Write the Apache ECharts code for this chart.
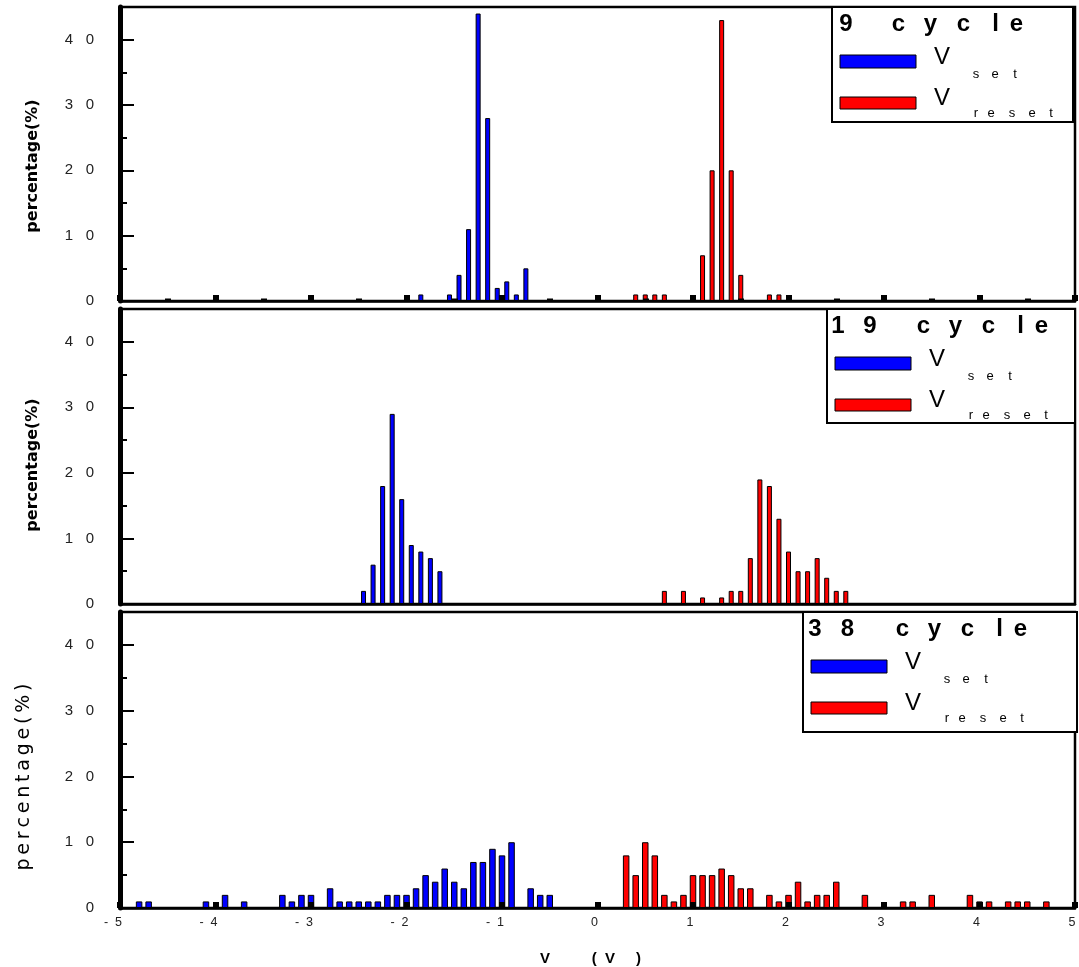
<!DOCTYPE html>
<html>
<head>
<meta charset="utf-8">
<script src="https://cdn.jsdelivr.net/npm/echarts@6/dist/echarts.min.js"></script>
<style>
  html, body { margin: 0; padding: 0; background: #fff; }
  #chart { width: 1079px; height: 967px; }
</style>
</head>
<body>
<div id="chart"></div>
<script>
// Switching-voltage histograms (percentage per 0.1 V bin) after 9, 19 and 38 cycles

const cycles = ['9', '19', '38'];

// 9 cycles
const setV9 = [-1.85, -1.55, -1.45, -1.35, -1.25, -1.15, -1.05, -0.95, -0.85, -0.75];
const setP9 = [1, 1, 4, 11, 44, 28, 2, 3, 1, 5];
const resetV9 = [0.4, 0.5, 0.6, 0.7, 1.1, 1.2, 1.3, 1.4, 1.5, 1.8, 1.9];
const resetP9 = [1, 1, 1, 1, 7, 20, 43, 20, 4, 1, 1];

// 19 cycles
const setV19 = [-2.45, -2.35, -2.25, -2.15, -2.05, -1.95, -1.85, -1.75, -1.65];
const setP19 = [2, 6, 18, 29, 16, 9, 8, 7, 5];
const resetV19 = [0.7, 0.9, 1.1, 1.3, 1.4, 1.5, 1.6, 1.7, 1.8, 1.9, 2.0, 2.1, 2.2, 2.3, 2.4, 2.5, 2.6];
const resetP19 = [2, 2, 1, 1, 2, 2, 7, 19, 18, 13, 8, 5, 5, 7, 4, 2, 2];

// 38 cycles
const setV38 = [-4.8, -4.7, -4.1, -3.9, -3.7, -3.3, -3.2, -3.1, -3.0, -2.8, -2.7, -2.6, -2.5, -2.4, -2.3,
  -2.2, -2.1, -2.0, -1.9, -1.8, -1.7, -1.6, -1.5, -1.4, -1.3, -1.2, -1.1, -1.0, -0.9, -0.7, -0.6, -0.5];
const setP38 = [1, 1, 1, 2, 1, 2, 1, 2, 2, 3, 1, 1, 1, 1, 1,
  2, 2, 2, 3, 5, 4, 6, 4, 3, 7, 7, 9, 8, 10, 3, 2, 2];
const resetV38 = [0.3, 0.4, 0.5, 0.6, 0.7, 0.8, 0.9, 1.0, 1.1, 1.2, 1.3, 1.4, 1.5, 1.6, 1.8, 1.9, 2.0,
  2.1, 2.2, 2.3, 2.4, 2.5, 2.8, 3.2, 3.3, 3.5, 3.9, 4.0, 4.1, 4.3, 4.4, 4.5, 4.7];
const resetP38 = [8, 5, 10, 8, 2, 1, 2, 5, 5, 5, 6, 5, 3, 3, 2, 1, 2,
  4, 1, 2, 2, 4, 2, 1, 1, 2, 2, 1, 1, 1, 1, 1, 1];

// axis ranges
const xMin = -5, xMax = 5, xStep = 1;
const yMin = 0, yMax = 45, yStep = 10, yMinorStep = 5;

const panels = [
  { setV: setV9, setP: setP9, resetV: resetV9, resetP: resetP9 },
  { setV: setV19, setP: setP19, resetV: resetV19, resetP: resetP19 },
  { setV: setV38, setP: setP38, resetV: resetV38, resetP: resetP38 }
];

// ---- layout ----
const gridBox = [
  { top: 7, height: 294 },
  { top: 309, height: 295 },
  { top: 612, height: 296 }
];
const barW = [5, 5, 6.5];
const BLUE = '#0000ff', RED = '#ff0000';
const SANS = '"Liberation Sans", Arial, sans-serif';

const spread = s => s.split('').join('   ');
const fmtY = v => (v === yMax ? '' : spread(String(v)));
const fmtX = v => (v < 0 ? '{neg|-  ' + (-v) + '}' : '{pos|' + v + '}');

const grids = [], xAxes = [], yAxes = [], series = [];

panels.forEach((p, i) => {
  grids.push({
    left: 120, width: 955, top: gridBox[i].top, height: gridBox[i].height,
    show: true, borderColor: '#000', borderWidth: 2.5, backgroundColor: 'transparent'
  });

  xAxes.push({
    type: 'value', gridIndex: i, min: xMin, max: xMax, interval: xStep, z: 10,
    axisLine: { show: true, onZero: false, lineStyle: { color: '#000', width: 2.5 } },
    axisTick: { show: i !== 1, inside: true, length: 6, lineStyle: { color: '#000', width: 6 } },
    minorTick: { show: i === 0, splitNumber: 2, length: 2.5, lineStyle: { color: '#000', width: 6 } },
    splitLine: { show: false },
    axisLabel: {
      show: i === 2, margin: 8, formatter: fmtX,
      rich: {
        neg: { fontSize: 12.5, fontFamily: SANS, color: '#222', padding: [0, 14, 0, 0] },
        pos: { fontSize: 12.5, fontFamily: SANS, color: '#222', padding: [0, 6, 0, 0] }
      }
    },
    name: i === 2 ? 'V          (  V     )' : '',
    nameLocation: 'middle', nameGap: 43,
    nameTextStyle: { fontSize: 15, fontWeight: 'bold', fontFamily: SANS, color: '#000', padding: [0, 14, 0, 0] }
  });

  // major ticks with labels
  yAxes.push({
    type: 'value', gridIndex: i, position: 'left', min: yMin, max: yMax, interval: yStep,
    axisLine: { show: true, onZero: false, lineStyle: { color: '#000', width: 5 } },
    axisTick: { show: true, inside: true, length: 14, lineStyle: { color: '#000', width: 2 } },
    axisLabel: { margin: 26, fontSize: 15, fontFamily: SANS, color: '#222', formatter: fmtY },
    splitLine: { show: false }
  });
  // minor ticks every 5 %
  yAxes.push({
    type: 'value', gridIndex: i, position: 'left', min: yMin, max: yMax, interval: yMinorStep,
    axisLine: { show: false, onZero: false },
    axisTick: { show: true, inside: true, length: 7, lineStyle: { color: '#000', width: 2 } },
    axisLabel: { show: false },
    splitLine: { show: false }
  });

  series.push({
    type: 'bar', name: 'Vset', xAxisIndex: i, yAxisIndex: 2 * i,
    data: p.setV.map((v, k) => [v, p.setP[k]]),
    barWidth: barW[i], barGap: '-100%',
    itemStyle: { color: BLUE, borderColor: '#000', borderWidth: 1 },
    silent: true
  });
  series.push({
    type: 'bar', name: 'Vreset', xAxisIndex: i, yAxisIndex: 2 * i,
    data: p.resetV.map((v, k) => [v, p.resetP[k]]),
    barWidth: barW[i], barGap: '-100%',
    itemStyle: { color: RED, borderColor: '#000', borderWidth: 1 },
    silent: true
  });
});

// ---- graphic: y titles and legend boxes ----
function txt(x, y, text, font, extra) {
  return Object.assign({
    type: 'text', x: x, y: y, z: 100, silent: true,
    style: {
      text: text, font: font, fill: '#000',
      align: 'center', verticalAlign: 'middle',
      textAlign: 'center', textVerticalAlign: 'middle'
    }
  }, extra || {});
}

const graphics = [];

// y-axis titles
graphics.push(txt(33, 166, 'percentage(%)', 'bold 16px "DejaVu Sans"', { rotation: Math.PI / 2 }));
graphics.push(txt(33, 465, 'percentage(%)', 'bold 16px "DejaVu Sans"', { rotation: Math.PI / 2 }));
graphics.push(txt(24, 777, 'percentage(%)'.split('').join('\u2009'), '19px "DejaVu Sans"', { rotation: Math.PI / 2 }));

// legend boxes
const legendBox = [
  { x: 832, y: 7, w: 241, h: 115, digitX: [14], cycleX: 66.5 },
  { x: 827, y: 309, w: 248, h: 114, digitX: [11, 43], cycleX: 96.5 },
  { x: 803, y: 612, w: 274, h: 120, digitX: [12, 44.5], cycleX: 99.5 }
];
const cycleWord = 'cycle';
const cycleOffsets = [0, 32, 65, 97, 118];
const setSub = 'set', setSubX = [144, 163, 183];
const resetSub = 'reset', resetSubX = [144, 159, 180, 200, 219];
const TITLE = 'bold 24px ' + SANS, BIG = '24px ' + SANS, SMALL = '13px ' + SANS;

legendBox.forEach((b, i) => {
  graphics.push({
    type: 'rect', z: 99, silent: true,
    shape: { x: b.x, y: b.y, width: b.w, height: b.h },
    style: { fill: '#fff', stroke: '#000', lineWidth: 2 }
  });
  // title "N cycle"
  cycles[i].split('').forEach((ch, k) => graphics.push(txt(b.x + b.digitX[k], b.y + 17.7, ch, TITLE)));
  cycleWord.split('').forEach((ch, k) => graphics.push(txt(b.x + b.cycleX + cycleOffsets[k], b.y + 17.7, ch, TITLE)));
  // swatches
  graphics.push({
    type: 'rect', z: 100, silent: true,
    shape: { x: b.x + 8, y: b.y + 48, width: 76, height: 13 },
    style: { fill: BLUE, stroke: '#000', lineWidth: 1 }
  });
  graphics.push({
    type: 'rect', z: 100, silent: true,
    shape: { x: b.x + 8, y: b.y + 90, width: 76, height: 12 },
    style: { fill: RED, stroke: '#000', lineWidth: 1 }
  });
  // V_set / V_reset
  graphics.push(txt(b.x + 110, b.y + 50, 'V', BIG));
  setSub.split('').forEach((ch, k) => graphics.push(txt(b.x + setSubX[k], b.y + 67, ch, SMALL)));
  graphics.push(txt(b.x + 110, b.y + 91, 'V', BIG));
  resetSub.split('').forEach((ch, k) => graphics.push(txt(b.x + resetSubX[k], b.y + 106.5, ch, SMALL)));
});

const chart = echarts.init(document.getElementById('chart'), null, { renderer: 'canvas' });
chart.setOption({
  animation: false,
  backgroundColor: '#fff',
  grid: grids,
  xAxis: xAxes,
  yAxis: yAxes,
  series: series,
  graphic: graphics
});
</script>
</body>
</html>
